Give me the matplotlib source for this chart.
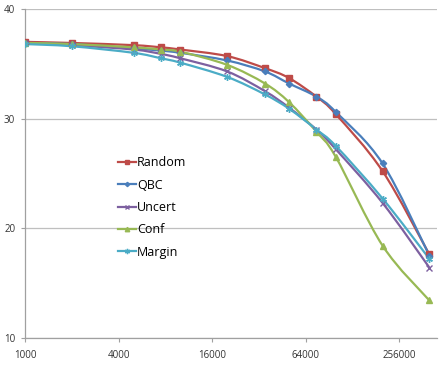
import numpy as np
import matplotlib
matplotlib.use('Agg')
import matplotlib.pyplot as plt
from matplotlib.path import Path
from matplotlib.patches import PathPatch
from matplotlib.lines import Line2D

# training set size
sizes = [1000, 2000, 5000, 7500, 10000, 20000, 35000, 50000, 75000, 100000, 200000, 400000]

random_acc = [37.0, 36.9, 36.7, 36.5, 36.3, 35.7, 34.6, 33.7, 32.0, 30.4, 25.2, 17.6]
qbc_acc    = [36.9, 36.8, 36.4, 36.2, 36.0, 35.3, 34.3, 33.2, 32.0, 30.6, 25.9, 17.5]
uncert_acc = [36.9, 36.7, 36.3, 35.9, 35.5, 34.3, 32.5, 31.0, 29.0, 27.2, 22.3, 16.4]
conf_acc   = [36.9, 36.8, 36.5, 36.3, 36.1, 34.9, 33.2, 31.5, 28.8, 26.5, 18.4, 13.4]
margin_acc = [36.8, 36.6, 36.0, 35.5, 35.1, 33.8, 32.2, 30.9, 29.0, 27.5, 22.7, 17.2]

series_names = ['Random', 'QBC', 'Uncert', 'Conf', 'Margin']
x_ticks = [1000, 4000, 16000, 64000, 256000]
y_ticks = [10, 20, 30, 40]

styles = [
    ('#BE4B48', 's', 4.2),
    ('#4A7EBB', 'D', 3.2),
    ('#7D60A0', 'x', 4.2),
    ('#98B954', '^', 4.2),
    ('#4BACC6', (6, 2, 0), 4.8),
]


def smooth_path(xs, ys):
    # excel-like smoothed line, bezier built in log2(x) space
    lx = np.log2(np.asarray(xs, dtype=float))
    y = np.asarray(ys, dtype=float)
    n = len(lx)
    verts = [(xs[0], y[0])]
    codes = [Path.MOVETO]
    for i in range(n - 1):
        a = i - 1 if i > 0 else i
        b = i + 2 if i + 2 < n else i + 1
        c1x = lx[i] + (lx[i + 1] - lx[a]) / 6
        c1y = y[i] + (y[i + 1] - y[a]) / 6
        c2x = lx[i + 1] - (lx[b] - lx[i]) / 6
        c2y = y[i + 1] - (y[b] - y[i]) / 6
        verts += [(2 ** c1x, c1y), (2 ** c2x, c2y), (xs[i + 1], y[i + 1])]
        codes += [Path.CURVE4] * 3
    return Path(verts, codes)


fig = plt.figure(figsize=(4.43, 3.68), dpi=100)
ax = fig.add_axes([25 / 443, 30.3 / 368, 412 / 443, 328.7 / 368])

ax.set_xscale('log', base=2)
ax.set_xlim(1000, 448000)
ax.set_ylim(10, 40)

all_series = [random_acc, qbc_acc, uncert_acc, conf_acc, margin_acc]
handles = []
for name, vals, (col, mk, ms) in zip(series_names, all_series, styles):
    ax.add_patch(PathPatch(smooth_path(sizes, vals), facecolor='none',
                           edgecolor=col, lw=1.6, zorder=3))
    ax.plot(sizes, vals, linestyle='none', marker=mk, markersize=ms,
            color=col, markeredgewidth=1.0, zorder=4)
    handles.append(Line2D([], [], color=col, lw=1.6, marker=mk,
                          markersize=ms - 1, markeredgewidth=1.0, label=name))

ax.set_yticks(y_ticks)
ax.xaxis.set_major_locator(matplotlib.ticker.FixedLocator(x_ticks))
ax.xaxis.set_minor_locator(matplotlib.ticker.NullLocator())
ax.xaxis.set_major_formatter(matplotlib.ticker.FuncFormatter(lambda v, p: '%d' % v))

ax.grid(axis='y', color='#BFBFBF', lw=0.9)
ax.set_axisbelow(True)
for s in ['top', 'right']:
    ax.spines[s].set_visible(False)
for s in ['left', 'bottom']:
    ax.spines[s].set_color('#A0A0A0')
    ax.spines[s].set_linewidth(0.9)

ax.tick_params(axis='both', colors='#A0A0A0', length=3, width=0.8,
               labelsize=7, labelcolor='#333333')
ax.tick_params(axis='x', pad=6)
ax.tick_params(axis='y', pad=4)
for lbl in ax.get_xticklabels() + ax.get_yticklabels():
    lbl.set_family('Open Sans')

ax.legend(handles=handles, loc='upper left',
          bbox_to_anchor=(82 / 412, (368 - 30.3 - 145) / 328.7),
          frameon=False, handlelength=1.4, handletextpad=0.1, labelspacing=0.75,
          prop={'family': 'Open Sans', 'size': 9})

plt.savefig('out.png', dpi=100)
plt.close()
